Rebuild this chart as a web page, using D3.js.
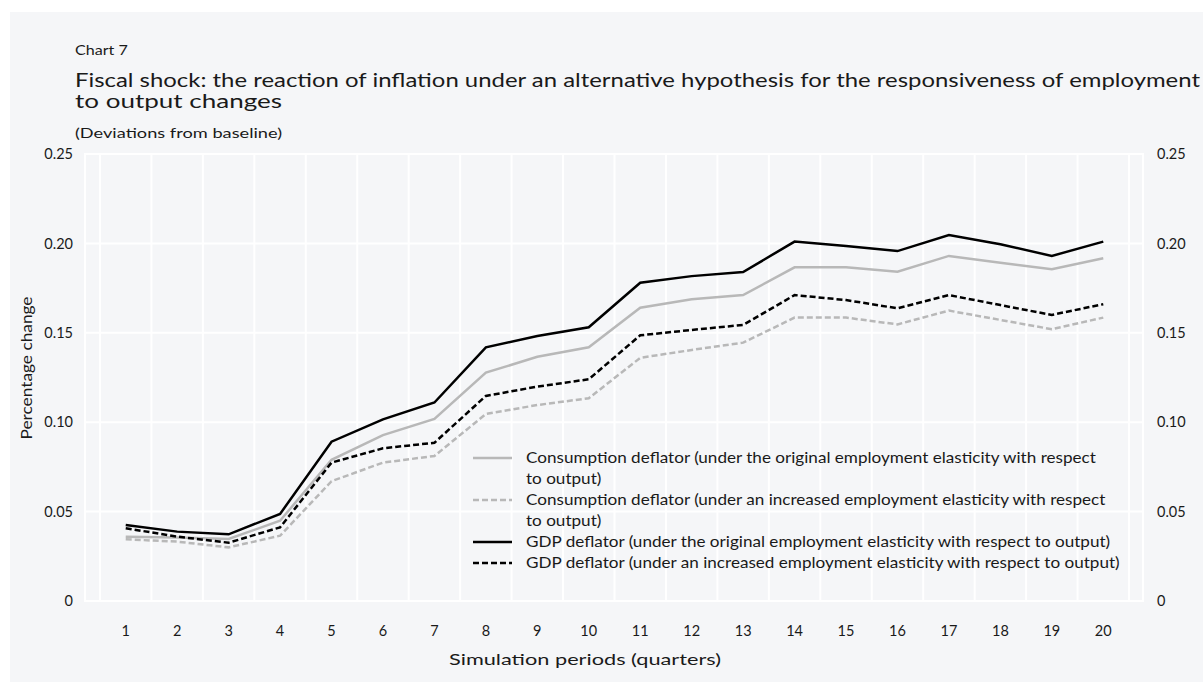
<!DOCTYPE html>
<html>
<head>
<meta charset="utf-8">
<script src="https://cdn.jsdelivr.net/npm/d3@7"></script>
<style>
  body { margin: 0; background: #fff; }
  text { font-family: Lato, "Noto Sans", sans-serif; fill: #1a1a1a; }
</style>
</head>
<body>
<div id="chart"></div>
<script>
const periods = d3.range(1, 21);
const consOriginal = [0.036, 0.0355, 0.0347, 0.0449, 0.079, 0.0928, 0.1018, 0.1277, 0.1366, 0.1419, 0.164, 0.1687, 0.1711, 0.1866, 0.1866, 0.1842, 0.193, 0.1892, 0.1855, 0.1917];
const consIncreased = [0.0345, 0.0332, 0.030, 0.0365, 0.067, 0.0774, 0.0811, 0.1046, 0.1096, 0.1134, 0.136, 0.1404, 0.1445, 0.1585, 0.1585, 0.1547, 0.1624, 0.1572, 0.152, 0.1585];
const gdpOriginal = [0.0425, 0.0388, 0.0373, 0.0487, 0.0891, 0.1016, 0.111, 0.1419, 0.1482, 0.1531, 0.178, 0.1817, 0.184, 0.201, 0.1985, 0.1957, 0.2047, 0.1995, 0.193, 0.201];
const gdpIncreased = [0.0407, 0.036, 0.0326, 0.0412, 0.0774, 0.0854, 0.0885, 0.1147, 0.1199, 0.124, 0.1486, 0.1516, 0.1544, 0.1711, 0.1683, 0.1637, 0.1711, 0.1655, 0.160, 0.166];
const yTicks = [0, 0.05, 0.10, 0.15, 0.20, 0.25];
const yTickLabels = ['0', '0.05', '0.10', '0.15', '0.20', '0.25'];

const series = [
  { name: ['Consumption deflator (under the original employment elasticity with respect', 'to output)'], values: consOriginal, color: '#b8b8b8', dash: null },
  { name: ['Consumption deflator (under an increased employment elasticity with respect', 'to output)'], values: consIncreased, color: '#b8b8b8', dash: '6,3' },
  { name: ['GDP deflator (under the original employment elasticity with respect to output)'], values: gdpOriginal, color: '#000', dash: null },
  { name: ['GDP deflator (under an increased employment elasticity with respect to output)'], values: gdpIncreased, color: '#000', dash: '6,3' }
];

const width = 1203;
const height = 682;

// the reference type is wider than Lato, stretch text to its measured width
const stretch = (sel, k) => {
  sel.each(function () {
    const w = this.getComputedTextLength();
    d3.select(this).attr('textLength', w * k).attr('lengthAdjust', 'spacingAndGlyphs');
  });
};

const svg = d3.select('#chart').append('svg').attr('width', width).attr('height', height);

// panel background
svg.append('rect').attr('x', 10).attr('y', 12).attr('width', width - 10).attr('height', height - 12).attr('fill', '#f5f6f8');

const plot = { left: 85, right: 1143, top: 154, bottom: 601 };

const x = d3.scaleBand().domain(periods).range([100, 1129]);
const y = d3.scaleLinear().domain([0, 0.25]).range([plot.bottom, plot.top]);

// titles
svg.append('text').attr('x', 75).attr('y', 55).attr('font-size', 14).text('Chart  7').call(stretch, 1.15);
svg.append('text').attr('x', 75).attr('y', 87).attr('font-size', 19.5)
  .text('Fiscal shock: the reaction of inflation under an alternative hypothesis for the responsiveness of employment')
  .attr('textLength', 1125).attr('lengthAdjust', 'spacingAndGlyphs');
svg.append('text').attr('x', 75).attr('y', 108).attr('font-size', 19.5).text('to output changes')
  .attr('textLength', 207).attr('lengthAdjust', 'spacingAndGlyphs');
svg.append('text').attr('x', 75).attr('y', 138).attr('font-size', 14).text('(Deviations from baseline)')
  .attr('textLength', 207).attr('lengthAdjust', 'spacingAndGlyphs');

// grid
const grid = svg.append('g');
grid.selectAll('.hg').data(yTicks).enter().append('line')
  .attr('x1', plot.left).attr('x2', plot.right)
  .attr('y1', (d) => y(d)).attr('y2', (d) => y(d))
  .attr('stroke', '#fff').attr('stroke-width', 2);
grid.selectAll('.vg').data(periods.concat([21])).enter().append('line')
  .attr('x1', (d) => (d <= 20 ? x(d) : x(20) + x.bandwidth()))
  .attr('x2', (d) => (d <= 20 ? x(d) : x(20) + x.bandwidth()))
  .attr('y1', plot.top).attr('y2', plot.bottom)
  .attr('stroke', '#fff').attr('stroke-width', 2);
grid.append('rect').attr('x', plot.left).attr('y', plot.top)
  .attr('width', plot.right - plot.left).attr('height', plot.bottom - plot.top)
  .attr('fill', 'none').attr('stroke', '#fff').attr('stroke-width', 2);

// axes
const yLeft = svg.append('g').attr('transform', `translate(${plot.left - 12},0)`)
  .call(d3.axisLeft(y).tickValues(yTicks).tickSize(0).tickPadding(0).tickFormat((d, i) => yTickLabels[i]));
const yRight = svg.append('g').attr('transform', `translate(${plot.right + 14},0)`)
  .call(d3.axisRight(y).tickValues(yTicks).tickSize(0).tickPadding(0).tickFormat((d, i) => yTickLabels[i]));
const xAxis = svg.append('g').attr('transform', `translate(0,${plot.bottom + 25})`)
  .call(d3.axisBottom(x).tickSize(0).tickPadding(0));
[yLeft, yRight, xAxis].forEach((g) => {
  g.select('.domain').remove();
  g.selectAll('text').attr('font-size', 14.5).attr('fill', '#1a1a1a').attr('font-family', 'Lato, sans-serif');
});

svg.append('text').attr('transform', 'translate(32,368) rotate(-90)').attr('text-anchor', 'middle')
  .attr('font-size', 15).text('Percentage change')
  .attr('textLength', 143).attr('lengthAdjust', 'spacingAndGlyphs');
svg.append('text').attr('x', 585).attr('y', 665).attr('text-anchor', 'middle')
  .attr('font-size', 15).text('Simulation periods (quarters)')
  .attr('textLength', 272).attr('lengthAdjust', 'spacingAndGlyphs');

// lines
const line = d3.line().x((d, i) => x(periods[i]) + x.bandwidth() / 2).y((d) => y(d));
svg.selectAll('.series').data(series).enter().append('path')
  .attr('d', (d) => line(d.values))
  .attr('fill', 'none')
  .attr('stroke', (d) => d.color)
  .attr('stroke-width', 2.5)
  .attr('stroke-dasharray', (d) => d.dash);

// legend
const legend = svg.append('g').attr('transform', 'translate(473,0)');
let row = 458;
series.forEach((s) => {
  legend.append('line').attr('x1', 0).attr('x2', 39).attr('y1', row).attr('y2', row)
    .attr('stroke', s.color).attr('stroke-width', 2.5).attr('stroke-dasharray', s.dash);
  s.name.forEach((t) => {
    legend.append('text').attr('x', 53).attr('y', row + 5).attr('font-size', 15).text(t).call(stretch, 1.14);
    row += 21;
  });
});
</script>
</body>
</html>
